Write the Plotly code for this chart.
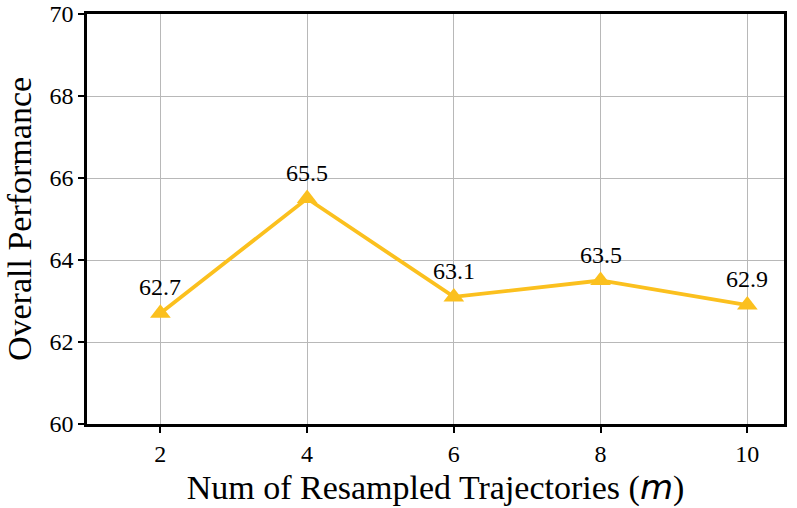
import plotly.graph_objects as go

m_values = [2, 4, 6, 8, 10]
performance = [62.7, 65.5, 63.1, 63.5, 62.9]
x_ticks = [2, 4, 6, 8, 10]
y_ticks = [60, 62, 64, 66, 68, 70]

color = "#FBC01E"
font_family = "Liberation Serif"

fig = go.Figure()
fig.add_trace(go.Scatter(
    x=m_values, y=performance, mode="lines+markers",
    line=dict(color=color, width=3.8),
    marker=dict(symbol="triangle-up", size=18, color=color),
    cliponaxis=False, showlegend=False,
))

for xv, yv in zip(m_values, performance):
    fig.add_annotation(x=xv, y=yv, text=f"{yv:.1f}", showarrow=False,
                       yshift=26, font=dict(family=font_family, size=24, color="black"))

axis_common = dict(
    showline=True, linecolor="black", linewidth=2.5, mirror=True,
    ticks="outside", ticklen=6, tickwidth=2, tickcolor="black",
    showgrid=True, gridcolor="#b8b8b8", gridwidth=1.4, zeroline=False,
    tickfont=dict(family=font_family, size=24, color="black"),
    automargin=False,
)

fig.update_xaxes(range=[1, 10.5], tickvals=x_ticks, ticktext=[str(t) for t in x_ticks],
                 title=dict(text="Num of Resampled Trajectories (<span style=\"font-family:'DejaVu Sans';font-style:italic\">m</span>)",
                            font=dict(family=font_family, size=34, color="black"), standoff=3),
                 **axis_common)
fig.update_yaxes(range=[60, 70], tickvals=y_ticks, ticktext=[str(t) for t in y_ticks],
                 title=dict(text="Overall Performance",
                            font=dict(family=font_family, size=34, color="black"), standoff=8),
                 **axis_common)

fig.update_layout(
    width=797, height=508,
    margin=dict(l=87, r=13, t=14, b=84),
    plot_bgcolor="white", paper_bgcolor="white",
    font=dict(family=font_family, color="black"),
)

fig.write_html("out.html", config={"displayModeBar": False},
               post_script="document.body.style.margin='0';document.body.style.padding='0';")
